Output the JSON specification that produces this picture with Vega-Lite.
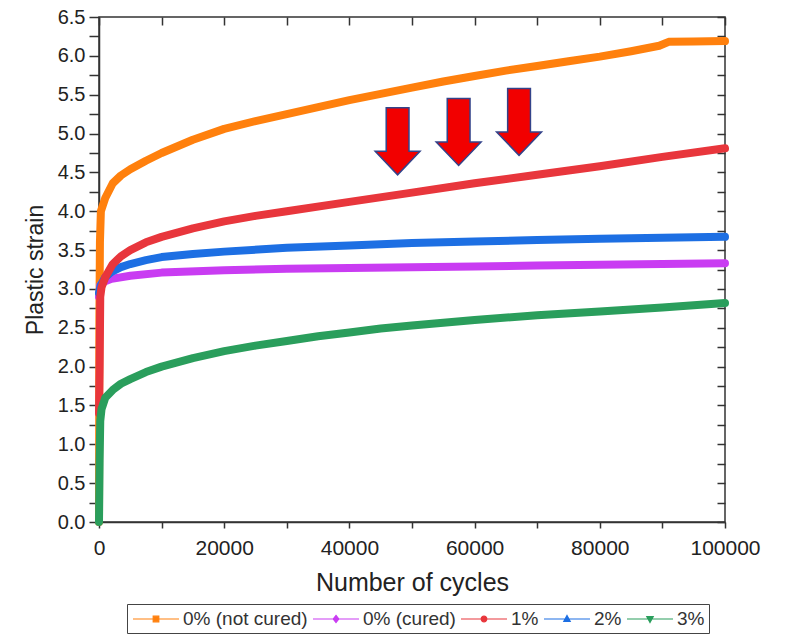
{
  "$schema": "https://vega.github.io/schema/vega-lite/v6.json",
  "width": 626,
  "height": 505,
  "autosize": "none",
  "padding": {"left": 99, "top": 17, "right": 60, "bottom": 112},
  "background": "white",
  "config": {
    "font": "Liberation Sans",
    "view": {"stroke": "#333", "strokeWidth": 1.5},
    "axis": {"domainColor": "#333", "tickColor": "#333", "labelColor": "#222", "titleColor": "#222", "labelFont": "Liberation Sans", "titleFont": "Liberation Sans", "grid": false, "domainWidth": 1.5, "tickWidth": 1.5, "titleFontWeight": "normal"},
    "legend": {
      "orient": "none",
      "legendX": 28,
      "legendY": 587,
      "direction": "horizontal",
      "columns": 5,
      "labelFontSize": 19,
      "labelColor": "#333",
      "labelFont": "Liberation Sans",
      "symbolSize": 400,
      "symbolStrokeWidth": 1.2,
      "symbolOffset": 14,
      "labelOffset": 16,
      "columnPadding": 2,
      "padding": 4,
      "strokeColor": "#444",
      "fillColor": "white"
    }
  },
  "datasets": {
    "curves": [
      {"series": "0% (not cured)", "cycles": 0, "strain": 0.0},
      {"series": "0% (not cured)", "cycles": 60, "strain": 2.6},
      {"series": "0% (not cured)", "cycles": 150, "strain": 3.6},
      {"series": "0% (not cured)", "cycles": 300, "strain": 4.0},
      {"series": "0% (not cured)", "cycles": 1000, "strain": 4.17},
      {"series": "0% (not cured)", "cycles": 2200, "strain": 4.36},
      {"series": "0% (not cured)", "cycles": 3500, "strain": 4.46},
      {"series": "0% (not cured)", "cycles": 5000, "strain": 4.54},
      {"series": "0% (not cured)", "cycles": 7500, "strain": 4.65},
      {"series": "0% (not cured)", "cycles": 10000, "strain": 4.75},
      {"series": "0% (not cured)", "cycles": 15000, "strain": 4.92},
      {"series": "0% (not cured)", "cycles": 20000, "strain": 5.06},
      {"series": "0% (not cured)", "cycles": 25000, "strain": 5.16},
      {"series": "0% (not cured)", "cycles": 30000, "strain": 5.25},
      {"series": "0% (not cured)", "cycles": 35000, "strain": 5.34},
      {"series": "0% (not cured)", "cycles": 40000, "strain": 5.43},
      {"series": "0% (not cured)", "cycles": 45000, "strain": 5.51},
      {"series": "0% (not cured)", "cycles": 50000, "strain": 5.59},
      {"series": "0% (not cured)", "cycles": 55000, "strain": 5.67},
      {"series": "0% (not cured)", "cycles": 60000, "strain": 5.74},
      {"series": "0% (not cured)", "cycles": 65000, "strain": 5.81},
      {"series": "0% (not cured)", "cycles": 70000, "strain": 5.87},
      {"series": "0% (not cured)", "cycles": 75000, "strain": 5.93},
      {"series": "0% (not cured)", "cycles": 80000, "strain": 5.99},
      {"series": "0% (not cured)", "cycles": 85000, "strain": 6.06},
      {"series": "0% (not cured)", "cycles": 89500, "strain": 6.13},
      {"series": "0% (not cured)", "cycles": 91000, "strain": 6.18},
      {"series": "0% (not cured)", "cycles": 95000, "strain": 6.185},
      {"series": "0% (not cured)", "cycles": 100000, "strain": 6.19},
      {"series": "0% (cured)", "cycles": 0, "strain": 2.9},
      {"series": "0% (cured)", "cycles": 200, "strain": 3.05},
      {"series": "0% (cured)", "cycles": 1000, "strain": 3.1},
      {"series": "0% (cured)", "cycles": 2000, "strain": 3.13},
      {"series": "0% (cured)", "cycles": 5000, "strain": 3.17},
      {"series": "0% (cured)", "cycles": 10000, "strain": 3.21},
      {"series": "0% (cured)", "cycles": 20000, "strain": 3.24},
      {"series": "0% (cured)", "cycles": 30000, "strain": 3.26},
      {"series": "0% (cured)", "cycles": 40000, "strain": 3.27},
      {"series": "0% (cured)", "cycles": 50000, "strain": 3.28},
      {"series": "0% (cured)", "cycles": 60000, "strain": 3.29},
      {"series": "0% (cured)", "cycles": 70000, "strain": 3.3},
      {"series": "0% (cured)", "cycles": 80000, "strain": 3.31},
      {"series": "0% (cured)", "cycles": 90000, "strain": 3.32},
      {"series": "0% (cured)", "cycles": 100000, "strain": 3.33},
      {"series": "2%", "cycles": 0, "strain": 2.95},
      {"series": "2%", "cycles": 300, "strain": 3.05},
      {"series": "2%", "cycles": 1000, "strain": 3.15},
      {"series": "2%", "cycles": 2000, "strain": 3.22},
      {"series": "2%", "cycles": 3500, "strain": 3.28},
      {"series": "2%", "cycles": 5000, "strain": 3.32},
      {"series": "2%", "cycles": 7500, "strain": 3.37},
      {"series": "2%", "cycles": 10000, "strain": 3.41},
      {"series": "2%", "cycles": 15000, "strain": 3.45},
      {"series": "2%", "cycles": 20000, "strain": 3.48},
      {"series": "2%", "cycles": 30000, "strain": 3.53},
      {"series": "2%", "cycles": 40000, "strain": 3.56},
      {"series": "2%", "cycles": 50000, "strain": 3.59},
      {"series": "2%", "cycles": 60000, "strain": 3.61},
      {"series": "2%", "cycles": 70000, "strain": 3.63},
      {"series": "2%", "cycles": 80000, "strain": 3.645},
      {"series": "2%", "cycles": 90000, "strain": 3.66},
      {"series": "2%", "cycles": 100000, "strain": 3.67},
      {"series": "1%", "cycles": 0, "strain": 1.4},
      {"series": "1%", "cycles": 100, "strain": 2.0},
      {"series": "1%", "cycles": 200, "strain": 2.9},
      {"series": "1%", "cycles": 400, "strain": 3.02},
      {"series": "1%", "cycles": 1000, "strain": 3.15},
      {"series": "1%", "cycles": 2200, "strain": 3.32},
      {"series": "1%", "cycles": 3500, "strain": 3.42},
      {"series": "1%", "cycles": 5000, "strain": 3.5},
      {"series": "1%", "cycles": 7500, "strain": 3.6},
      {"series": "1%", "cycles": 10000, "strain": 3.67},
      {"series": "1%", "cycles": 15000, "strain": 3.78},
      {"series": "1%", "cycles": 20000, "strain": 3.87},
      {"series": "1%", "cycles": 25000, "strain": 3.94},
      {"series": "1%", "cycles": 30000, "strain": 4.0},
      {"series": "1%", "cycles": 40000, "strain": 4.12},
      {"series": "1%", "cycles": 50000, "strain": 4.24},
      {"series": "1%", "cycles": 60000, "strain": 4.36},
      {"series": "1%", "cycles": 70000, "strain": 4.47},
      {"series": "1%", "cycles": 80000, "strain": 4.58},
      {"series": "1%", "cycles": 90000, "strain": 4.7},
      {"series": "1%", "cycles": 100000, "strain": 4.81},
      {"series": "3%", "cycles": 0, "strain": 0.0},
      {"series": "3%", "cycles": 100, "strain": 0.8},
      {"series": "3%", "cycles": 200, "strain": 1.3},
      {"series": "3%", "cycles": 400, "strain": 1.45},
      {"series": "3%", "cycles": 1000, "strain": 1.6},
      {"series": "3%", "cycles": 2200, "strain": 1.7},
      {"series": "3%", "cycles": 3500, "strain": 1.78},
      {"series": "3%", "cycles": 5000, "strain": 1.84},
      {"series": "3%", "cycles": 7500, "strain": 1.93},
      {"series": "3%", "cycles": 10000, "strain": 2.0},
      {"series": "3%", "cycles": 15000, "strain": 2.11},
      {"series": "3%", "cycles": 20000, "strain": 2.2},
      {"series": "3%", "cycles": 25000, "strain": 2.27},
      {"series": "3%", "cycles": 30000, "strain": 2.33},
      {"series": "3%", "cycles": 35000, "strain": 2.39},
      {"series": "3%", "cycles": 40000, "strain": 2.44},
      {"series": "3%", "cycles": 45000, "strain": 2.49},
      {"series": "3%", "cycles": 50000, "strain": 2.53},
      {"series": "3%", "cycles": 60000, "strain": 2.6},
      {"series": "3%", "cycles": 70000, "strain": 2.66},
      {"series": "3%", "cycles": 80000, "strain": 2.71},
      {"series": "3%", "cycles": 90000, "strain": 2.76},
      {"series": "3%", "cycles": 100000, "strain": 2.82}
    ],
    "arrows": [
      {"cycles": 47700, "strain": 4.9},
      {"cycles": 57450, "strain": 5.02},
      {"cycles": 67100, "strain": 5.15}
    ]
  },
  "layer": [
    {
      "data": {"name": "curves"},
      "mark": {"type": "line", "strokeWidth": 8, "strokeCap": "round", "strokeJoin": "round"},
      "encoding": {
        "x": {
          "field": "cycles", "type": "quantitative",
          "scale": {"domain": [0, 100000], "nice": false, "zero": false},
          "axis": {
            "orient": "bottom",
            "title": "Number of cycles",
            "values": [0, 10000, 20000, 30000, 40000, 50000, 60000, 70000, 80000, 90000, 100000],
            "labelExpr": "datum.value % 20000 === 0 ? format(datum.value, 'd') : ''",
            "labelOverlap": false,
            "labelFlush": false,
            "labelFontSize": 21,
            "titleFontSize": 25,
            "tickSize": 6,
            "labelPadding": 9,
            "titlePadding": 12
          }
        },
        "y": {
          "field": "strain", "type": "quantitative",
          "scale": {"domain": [0, 6.5], "nice": false},
          "axis": {
            "orient": "left",
            "title": "Plastic strain",
            "values": [0, 0.25, 0.5, 0.75, 1, 1.25, 1.5, 1.75, 2, 2.25, 2.5, 2.75, 3, 3.25, 3.5, 3.75, 4, 4.25, 4.5, 4.75, 5, 5.25, 5.5, 5.75, 6, 6.25, 6.5],
            "labelExpr": "datum.value % 0.5 === 0 ? format(datum.value, '.1f') : ''",
            "labelOverlap": false,
            "labelFlush": false,
            "labelFontSize": 20,
            "titleFontSize": 23,
            "tickSize": 10,
            "labelPadding": 4,
            "titlePadding": 10,
            "encode": {"ticks": {"update": {"x2": {"condition": {"test": "datum.value % 0.5 === 0", "value": -10}, "value": -5}}}}
          }
        },
        "color": {
          "field": "series", "type": "nominal",
          "scale": {
            "domain": ["0% (not cured)", "0% (cured)", "1%", "2%", "3%"],
            "range": ["#ff800d", "#c93cf2", "#e8363c", "#1d6fe3", "#2a9e5c"]
          },
          "legend": {"title": null}
        }
      }
    },
    {
      "data": {"name": "curves"},
      "transform": [{"filter": "datum.cycles < 0"}],
      "mark": {"type": "point", "filled": true, "strokeWidth": 1.2, "opacity": 1},
      "encoding": {
        "x": {"field": "cycles", "type": "quantitative", "axis": null},
        "y": {"field": "strain", "type": "quantitative", "axis": null},
        "color": {"field": "series", "type": "nominal", "legend": {"title": null}},
        "stroke": {
          "field": "series", "type": "nominal",
          "scale": {
            "domain": ["0% (not cured)", "0% (cured)", "1%", "2%", "3%"],
            "range": ["#8c8c8c", "#d070f5", "#ee6a6e", "#5a92e8", "#5fb884"]
          },
          "legend": {"title": null}
        },
        "shape": {
          "field": "series", "type": "nominal",
          "scale": {
            "domain": ["0% (not cured)", "0% (cured)", "1%", "2%", "3%"],
            "range": [
              "M-2.3,0H2.3M-0.28,-0.28H0.28V0.28H-0.28Z",
              "M-2.3,0H2.3M0,-0.36L0.28,0L0,0.36L-0.28,0Z",
              "M-2.3,0H2.3M-0.28,0A0.28,0.28 0 1,0 0.28,0A0.28,0.28 0 1,0 -0.28,0Z",
              "M-2.3,0H2.3M0,-0.34L0.32,0.24L-0.32,0.24Z",
              "M-2.3,0H2.3M0,0.34L0.32,-0.24L-0.32,-0.24Z"
            ]
          },
          "legend": {"title": null}
        }
      }
    },
    {
      "data": {"name": "arrows"},
      "mark": {
        "type": "point",
        "shape": "M-0.34,-1L0.34,-1L0.34,0.3L0.67,0.3L0,1L-0.67,0.3L-0.34,0.3Z",
        "size": 4489,
        "filled": true,
        "fill": "#f20000",
        "stroke": "#33438a",
        "strokeWidth": 1.5,
        "opacity": 1
      },
      "encoding": {
        "x": {
          "field": "cycles", "type": "quantitative",
          "axis": {
            "orient": "top", "title": null, "labels": false, "domain": false,
            "values": [0, 10000, 20000, 30000, 40000, 50000, 60000, 70000, 80000, 90000, 100000],
            "tickSize": -8,
            "encode": {"ticks": {"update": {"y2": {"value": 8}}}}
          }
        },
        "y": {
          "field": "strain", "type": "quantitative",
          "axis": {
            "orient": "right", "title": null, "labels": false, "domain": false,
            "values": [0, 0.25, 0.5, 0.75, 1, 1.25, 1.5, 1.75, 2, 2.25, 2.5, 2.75, 3, 3.25, 3.5, 3.75, 4, 4.25, 4.5, 4.75, 5, 5.25, 5.5, 5.75, 6, 6.25, 6.5],
            "tickSize": -8,
            "encode": {"ticks": {"update": {"x2": {"condition": {"test": "datum.value % 0.5 === 0", "value": -10}, "value": -5}}}}
          }
        }
      }
    }
  ],
  "resolve": {"axis": {"x": "independent", "y": "independent"}}
}
